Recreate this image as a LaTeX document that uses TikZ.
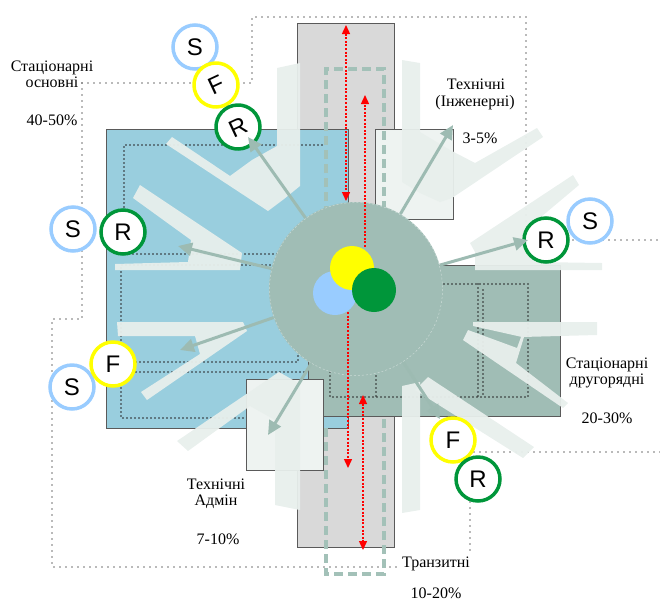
\documentclass[tikz,border=0pt]{standalone}
\usepackage{fontspec}
\setmainfont{Liberation Serif}
\setsansfont{Liberation Sans}
\usetikzlibrary{arrows.meta}
\definecolor{zoneblue}{HTML}{99CEDE}
\definecolor{zonegreen}{HTML}{A0BDB5}
\definecolor{transitgray}{HTML}{D9D9D9}
\definecolor{techpale}{HTML}{EEF3F1}
\definecolor{fanpale}{HTML}{E8EFEC}
\definecolor{flowgreen}{HTML}{9DBBB2}
\definecolor{routegreen}{HTML}{A3C1B8}
\definecolor{ringblue}{HTML}{99CCFF}
\definecolor{ringyellow}{HTML}{FFFF00}
\definecolor{ringgreen}{HTML}{00963A}
\definecolor{edgegray}{HTML}{5A5A5A}
\tikzset{
  areabox/.style={draw=edgegray, line width=1pt},
  zoneline/.style={draw=black!55, line width=1.7pt, line cap=round, dash pattern=on 0pt off 6pt},
  innerdot/.style={draw=black!85, line width=1.6pt, line cap=round, dash pattern=on 0pt off 4pt},
  transitroute/.style={draw=routegreen, line width=4pt, dash pattern=on 9pt off 5pt},
  fan/.style={fill=fanpale, opacity=0.95},
  hub/.style={circle, fill=zonegreen, minimum size=174pt, inner sep=0pt},
  hubrim/.style={draw=white, opacity=0.45, line width=0.5pt, dash pattern=on 2pt off 2pt},
  redflow/.style={draw=red, line width=1.4pt, dash pattern=on 2pt off 1.6pt},
  flowarrow/.style={draw=flowgreen, line width=3pt, -{Triangle[length=14pt,width=13pt]}},
  letter/.style={circle, draw=#1, fill=white, text=black, line width=3.5pt, minimum size=44pt,
    inner sep=0pt, font=\sffamily\fontsize{24}{24}\selectfont},
  zonelabel/.style={font=\fontsize{16}{16}\selectfont, anchor=base, inner sep=0pt}
}
\begin{document}
\begin{tikzpicture}[x=1pt,y=-1pt]
  \useasboundingbox (0,0) rectangle (660,603);
  % Zone boundaries
  \draw[zoneline] (82,83) -- (252,83) -- (252,17) -- (526,17) -- (526,240) -- (660,240);
  \draw[zoneline] (82,83) -- (82,319) -- (52,319) -- (52,567) -- (396,567);
  \draw[zoneline] (660,452) -- (470,452) -- (470,552);
  % Blocks
  \filldraw[areabox, fill=transitgray] (297,23) rectangle (394,547);
  \filldraw[areabox, fill=zoneblue] (106,129) rectangle (348,428);
  \filldraw[areabox, fill=techpale] (375,129) rectangle (453,219);
  \filldraw[areabox, fill=zonegreen] (308,265) rectangle (560,416);
  \filldraw[areabox, fill=techpale] (246,379) rectangle (323,470);
  % Transit route
  \draw[transitroute] (326,215) -- (326,69) -- (384,69) -- (384,215);
  \draw[transitroute] (326,428) -- (326,574) -- (384,574) -- (384,418);
  % Inner rooms
  \draw[innerdot] (322,145) -- (124,145) -- (124,254) -- (290,254);
  \draw[innerdot] (290,265) -- (121,265) -- (121,418) -- (245,418);
  \draw[innerdot] (120,362) -- (298,362) -- (298,340);
  \draw[innerdot] (120,372) -- (305,372);
  \draw[innerdot] (330,360) -- (330,397) -- (528,397) -- (528,284) -- (440,284);
  \draw[innerdot] (376,360) -- (376,397);
  \draw[innerdot] (478,284) -- (478,397);
  \draw[innerdot] (483,290) -- (483,397);
  % Pale sectors
  \fill[fan] (166,144) -- (172,137) -- (230,176) -- (252,160) -- (277,146) -- (277,68)
    -- (300,63) -- (300,186) -- (284,199) -- (268,211) -- cycle;
  \fill[fan] (140,185) -- (242,253) -- (240,270) -- (115,270) -- (115,264) -- (188,262)
    -- (191,240) -- (133,198) -- cycle;
  \fill[fan] (117,322) -- (243,322) -- (247,331) -- (147,400) -- (141,392) -- (200,354)
    -- (195,336) -- (118,336) -- cycle;
  \fill[fan] (177,441) -- (279,372) -- (300,384) -- (300,510) -- (275,505) -- (275,420)
    -- (250,406) -- (188,451) -- cycle;
  \fill[fan] (402,386) -- (420,382) -- (420,510) -- (402,513) -- cycle;
  \fill[fan] (428,377) -- (534,447) -- (523,458) -- (415,390) -- cycle;
  \fill[fan] (473,322) -- (597,322) -- (597,335) -- (522,337) -- (473,326) -- cycle;
  \fill[fan] (468,330) -- (517,348) -- (521,337) -- (524,337) -- (516,363) -- (568,403)
    -- (563,408) -- (463,340) -- cycle;
  \fill[fan] (402,60) -- (420,63) -- (420,132) -- (450,150) -- (475,163) -- (537,128)
    -- (543,137) -- (452,198) -- (440,202) -- (420,193) -- (402,182) -- cycle;
  \fill[fan] (470,243) -- (573,175) -- (579,185) -- (535,222) -- (535,262) -- (602,263)
    -- (602,270) -- (475,270) -- (475,252) -- cycle;
  % Hub
  \node[hub] (hub) at (356,289) {};
  \draw[hubrim] (hub.center) circle (86.5);
  \fill[ringblue] (335,293) circle (22);
  \fill[ringyellow] (352,268) circle (22);
  \fill[ringgreen] (374,290) circle (22);
  % Transit flows
  \coordinate (upA) at (346,25);
  \coordinate (dnA) at (346,201);
  \coordinate (upB) at (365,95);
  \coordinate (dnB) at (365,247);
  \coordinate (upC) at (348,312);
  \coordinate (dnC) at (348,468);
  \coordinate (upD) at (363,395);
  \coordinate (dnD) at (363,550);
  \draw[redflow, {Triangle[length=9pt,width=8pt]}-{Triangle[length=9pt,width=8pt]}] (upA) -- (dnA);
  \draw[redflow, -{Triangle[length=9pt,width=8pt]}] (dnB) -- (upB);
  \draw[redflow, -{Triangle[length=9pt,width=8pt]}] (upC) -- (dnC);
  \draw[redflow, {Triangle[length=9pt,width=8pt]}-{Triangle[length=9pt,width=8pt]}] (upD) -- (dnD);
  % Letter rings
  \node[letter=ringblue] (sTL) at (195,47) {S};
  \node[letter=ringyellow, rotate=25] (fTL) at (216,85) {F};
  \node[letter=ringgreen, rotate=25] (rTL) at (238,127) {R};
  \node[letter=ringblue] (sL) at (73,229) {S};
  \node[letter=ringgreen] (rL) at (123,232) {R};
  \node[letter=ringgreen] (rR) at (546,240) {R};
  \node[letter=ringblue] (sR) at (590,221) {S};
  \node[letter=ringblue] (sBL) at (72,387) {S};
  \node[letter=ringyellow] (fBL) at (113,364) {F};
  \node[letter=ringyellow] (fBR) at (453,440) {F};
  \node[letter=ringgreen] (rBR) at (478,479) {R};
  % Flows from hub
  \coordinate (tipTL) at (248,137);
  \coordinate (tipL) at (178,246);
  \coordinate (tipLL) at (180,350);
  \coordinate (tipAdm) at (268,435);
  \coordinate (tipBR) at (440,419);
  \coordinate (tipR) at (528,240);
  \coordinate (tipEng) at (453,125);
  \foreach \t in {tipTL,tipL,tipLL,tipAdm,tipBR,tipR,tipEng}
    \draw[flowarrow] (hub) -- (\t);
  % Labels
  \node[zonelabel] (lblMainA) at (52,71) {Стаціонарні};
  \node[zonelabel] (lblMainB) at (52,87) {основні};
  \node[zonelabel] (pctMain) at (52,125) {40-50\%};
  \node[zonelabel] (lblEngA) at (476,89) {Технічні};
  \node[zonelabel] (lblEngB) at (475,106) {(Інженерні)};
  \node[zonelabel] (pctEng) at (480,143) {3-5\%};
  \node[zonelabel] (lblSecA) at (607,368) {Стаціонарні};
  \node[zonelabel] (lblSecB) at (607,384) {другорядні};
  \node[zonelabel] (pctSec) at (607,423) {20-30\%};
  \node[zonelabel] (lblAdmA) at (216,489) {Технічні};
  \node[zonelabel] (lblAdmB) at (216,505) {Адмін};
  \node[zonelabel] (pctAdm) at (218,544) {7-10\%};
  \node[zonelabel] (lblTrn) at (436,567) {Транзитні};
  \node[zonelabel] (pctTrn) at (436,598) {10-20\%};
\end{tikzpicture}
\end{document}
